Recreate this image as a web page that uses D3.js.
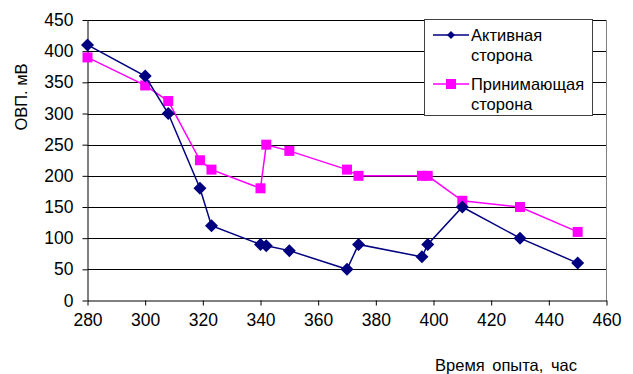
<!DOCTYPE html>
<html><head><meta charset="utf-8">
<script src="https://cdn.jsdelivr.net/npm/d3@7/dist/d3.min.js"></script>
<style>body{margin:0;background:#fff}svg{display:block}text{font-family:"Liberation Sans",Arial,sans-serif;fill:#000}</style>
</head><body><svg id="c" width="633" height="374"></svg>
<script>
const hours = [280,300,308,319,323,340,342,350,370,374,396,398,410,430,450];
const activeSide = [410,360,300,180,120,90,88,80,50,90,70,90,150,100,60];
const receivingSide = [390,345,320,225,210,180,250,240,210,200,200,200,160,150,110];
const seriesNames = ["Активная\nсторона","Принимающая\nсторона"];
const xTicks = [280,300,320,340,360,380,400,420,440,460];
const yTicks = [0,50,100,150,200,250,300,350,400,450];

const svg = d3.select("#c");
const L=87.5,R=606.5,T=20,B=300.5;
const x = d3.scaleLinear().domain([280,460]).range([L,R]);
const y = d3.scaleLinear().domain([0,450]).range([B,T]);

// gridlines
svg.append("g").selectAll("line").data(yTicks.filter(d=>d>0)).join("line")
  .attr("x1",L).attr("x2",R).attr("y1",d=>Math.round(y(d))+0.5).attr("y2",d=>Math.round(y(d))+0.5)
  .attr("stroke","#000").attr("stroke-width",1);
// right border
svg.append("line").attr("x1",R).attr("x2",R).attr("y1",T).attr("y2",B).attr("stroke","#808080").attr("stroke-width",1);

// axes
const xa = svg.append("g").attr("transform",`translate(0,${B})`)
  .call(d3.axisBottom(x).tickValues(xTicks).tickSize(5).tickSizeOuter(0).tickPadding(6));
const ya = svg.append("g").attr("transform",`translate(${L},0)`)
  .call(d3.axisLeft(y).tickValues(yTicks).tickSize(5).tickSizeOuter(0).tickPadding(9));
[xa,ya].forEach(g=>{g.select(".domain").attr("stroke","#000");g.selectAll(".tick line").attr("stroke","#000");
  g.selectAll("text").attr("font-size",17.5).attr("font-family","Liberation Sans, Arial, sans-serif");});
xa.selectAll("text").attr("dy","0.85em");

// titles
svg.append("text").attr("transform",`translate(27,97) rotate(-90)`).attr("text-anchor","middle")
  .attr("font-size",16.5).text("ОВП. мВ");
svg.append("text").attr("x",506).attr("y",371).attr("text-anchor","middle").attr("font-size",16.5)
  .attr("word-spacing",3).text("Время опыта, час");

const line = d3.line().x((d,i)=>x(hours[i])).y(d=>y(d));
const diamond = s=>`M0,${-s}L${s},0L0,${s}L${-s},0Z`;

// receiving series
svg.append("path").attr("d",line(receivingSide)).attr("fill","none").attr("stroke","#FF00FF").attr("stroke-width",1.5);
svg.append("g").selectAll("rect").data(receivingSide).join("rect")
  .attr("x",(d,i)=>x(hours[i])-5).attr("y",d=>y(d)-5).attr("width",10).attr("height",10).attr("fill","#FF00FF");

// active series
svg.append("path").attr("d",line(activeSide)).attr("fill","none").attr("stroke","#000080").attr("stroke-width",1.5);
svg.append("g").selectAll("path").data(activeSide).join("path")
  .attr("transform",(d,i)=>`translate(${x(hours[i])},${y(d)})`).attr("d",diamond(6.5)).attr("fill","#000080");

// legend
const lg = svg.append("g");
lg.append("rect").attr("x",424.5).attr("y",19.5).attr("width",168).attr("height",96).attr("fill","#fff").attr("stroke","#404040");
const items=[{c:"#000080",y:35,m:"d"},{c:"#FF00FF",y:84,m:"s"}];
items.forEach((it,i)=>{
  lg.append("line").attr("x1",433).attr("x2",469).attr("y1",it.y).attr("y2",it.y).attr("stroke",it.c).attr("stroke-width",1.5);
  if(it.m==="d") lg.append("path").attr("transform",`translate(451,${it.y})`).attr("d",diamond(4)).attr("fill",it.c);
  else lg.append("rect").attr("x",446).attr("y",it.y-5).attr("width",10).attr("height",10).attr("fill",it.c);
  const lines=seriesNames[i].split("\n");
  lines.forEach((t,j)=>lg.append("text").attr("x",471).attr("y",it.y+5.5+j*20).attr("font-size",16.5).text(t));
});
</script></body></html>
